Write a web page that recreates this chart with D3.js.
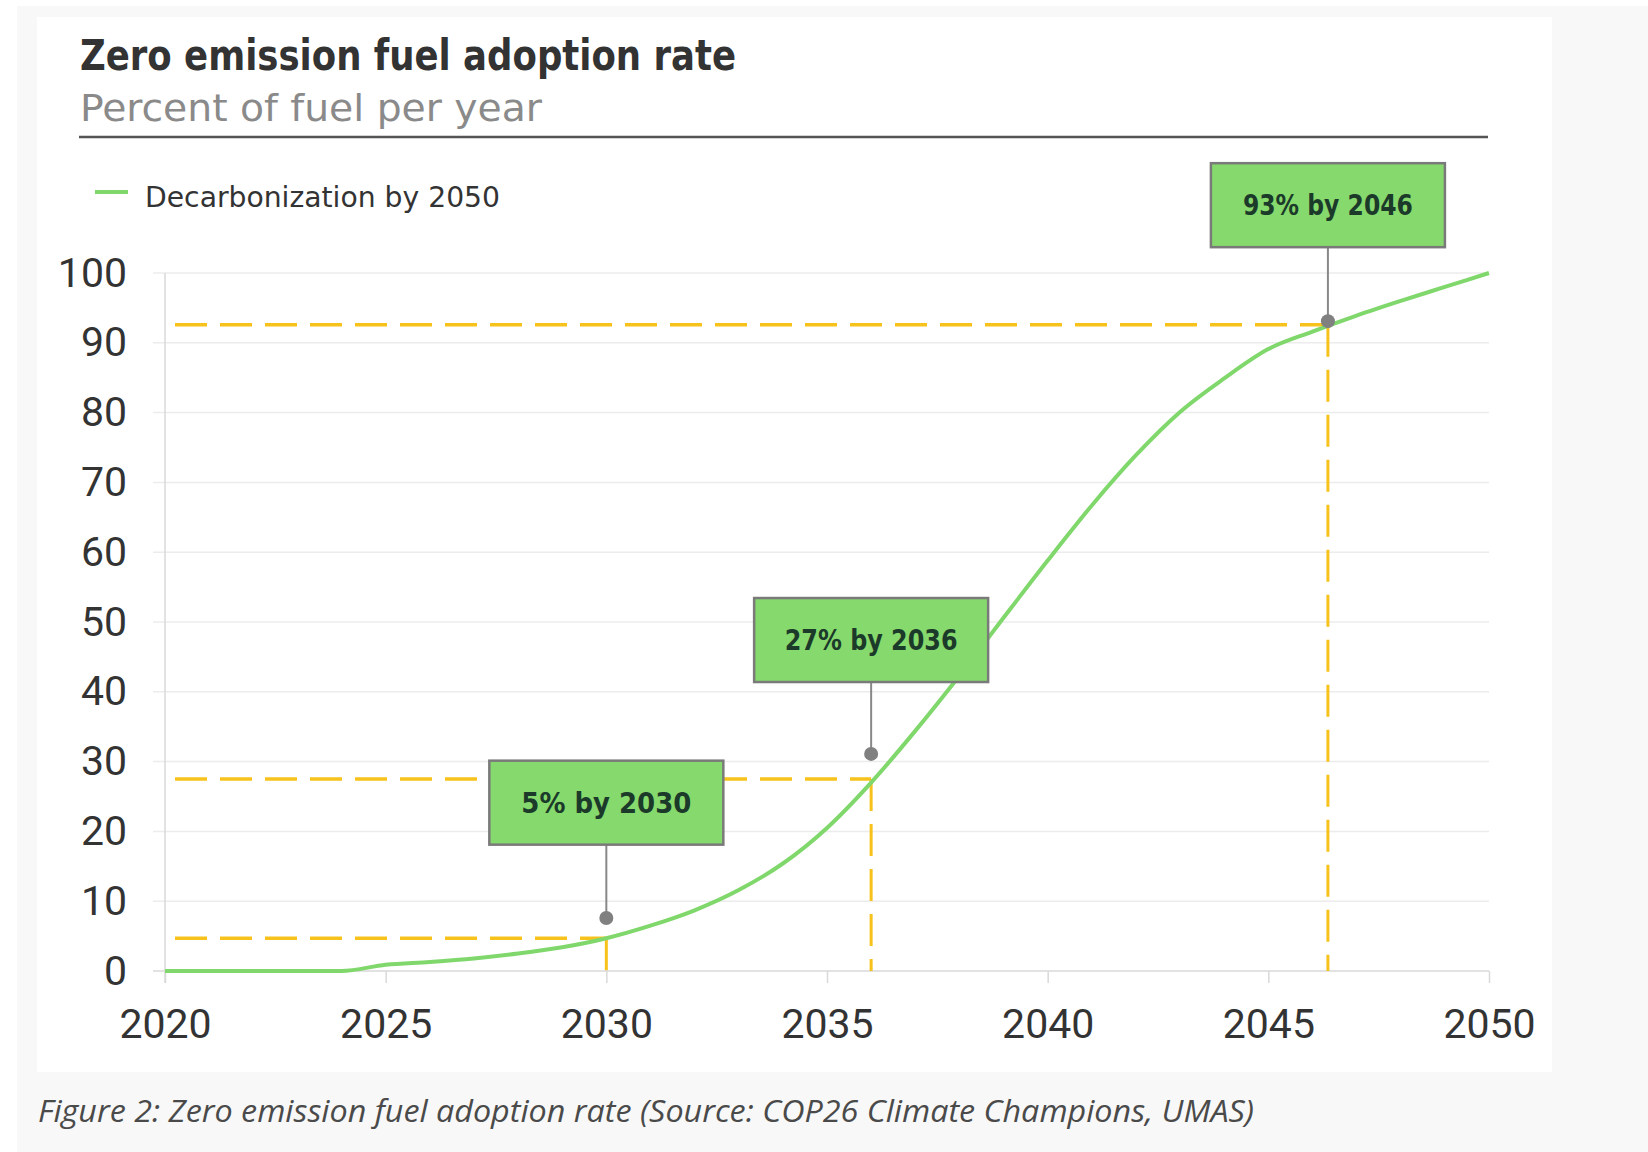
<!DOCTYPE html>
<html>
<head>
<meta charset="utf-8">
<script src="https://cdn.jsdelivr.net/npm/d3@7"></script>
<style>
  body { margin: 0; background: #fff; }
  svg { display: block; }
  .cond { font-family: "DejaVu Sans Condensed", "DejaVu Sans", sans-serif; font-stretch: condensed; }
  .tick-label { font-family: Roboto, "Liberation Sans", sans-serif; font-size: 41px; fill: #333; }
</style>
</head>
<body>
<div id="chart"></div>
<script>
// Decarbonization by 2050 curve, percent of fuel per year
const years = [2020, 2021, 2022, 2023, 2024, 2025, 2026, 2027, 2028, 2029, 2030,
  2031, 2032, 2033, 2034, 2035, 2036, 2037, 2038, 2039, 2040,
  2041, 2042, 2043, 2044, 2045, 2046, 2047, 2048, 2049, 2050];
const adoption = [0, 0, 0, 0, 0, 0.9, 1.3, 1.8, 2.5, 3.4, 4.7,
  6.5, 8.7, 11.6, 15.4, 20.5, 27.0, 34.4, 42.3, 50.6, 58.8,
  66.7, 73.9, 80.1, 84.9, 89.1, 91.6, 93.9, 96.0, 98.0, 100];

const xTicks = [2020, 2025, 2030, 2035, 2040, 2045, 2050];
const yTicks = [0, 10, 20, 30, 40, 50, 60, 70, 80, 90, 100];

// callouts
const calloutLabels = ["5% by 2030", "27% by 2036", "93% by 2046"];
const calloutYears = [2030, 2036, 2046.35];
const calloutLevels = [4.7, 27.5, 92.6];     // dashed guide level
const calloutDots = [7.6, 31.1, 93.1];       // pin dot
const calloutBoxBottoms = [18.1, 41.4, 103.7];

const W = 1648, H = 1152;
const svg = d3.select("#chart").append("svg").attr("width", W).attr("height", H);

// page and card background
svg.append("rect").attr("x", 17).attr("y", 6).attr("width", W - 17).attr("height", H - 6).attr("fill", "#f8f8f8");
svg.append("rect").attr("x", 37).attr("y", 17).attr("width", 1552 - 37).attr("height", 1072 - 17).attr("fill", "#fff");

// titles
svg.append("text").attr("class", "cond")
  .attr("x", 80).attr("y", 70)
  .attr("font-size", 42).attr("font-weight", "bold").attr("fill", "#333")
  .attr("textLength", 656).attr("lengthAdjust", "spacingAndGlyphs")
  .text("Zero emission fuel adoption rate");

svg.append("text").attr("class", "cond")
  .attr("x", 80).attr("y", 121)
  .attr("font-size", 38).attr("fill", "#8a8a8a")
  .attr("textLength", 462).attr("lengthAdjust", "spacingAndGlyphs")
  .text("Percent of fuel per year");

svg.append("line").attr("x1", 79).attr("x2", 1488).attr("y1", 137).attr("y2", 137)
  .attr("stroke", "#555").attr("stroke-width", 2.5);

// legend
svg.append("line").attr("x1", 95).attr("x2", 128).attr("y1", 192).attr("y2", 192)
  .attr("stroke", "#80d86c").attr("stroke-width", 4);
svg.append("text").attr("class", "cond")
  .attr("x", 145).attr("y", 207)
  .attr("font-size", 29).attr("fill", "#333")
  .attr("textLength", 355).attr("lengthAdjust", "spacingAndGlyphs")
  .text("Decarbonization by 2050");

// scales
const x = d3.scaleLinear().domain([2020, 2050]).range([165, 1489]);
const y = d3.scaleLinear().domain([0, 100]).range([971, 273]);

// grid
const g = svg.append("g");
g.selectAll(".grid").data(yTicks.slice(1)).enter().append("line")
  .attr("x1", x(2020) - 12).attr("x2", x(2050))
  .attr("y1", d => y(d)).attr("y2", d => y(d))
  .attr("stroke", "#ececec").attr("stroke-width", 1.5);

// axes
const xAxis = g.append("g").attr("transform", `translate(0,${y(0)})`)
  .call(d3.axisBottom(x).tickValues(xTicks).tickFormat(d3.format("d")).tickSize(12).tickPadding(26));
xAxis.select(".domain").attr("stroke", "#d9d9d9").attr("stroke-width", 1.5)
  .attr("d", `M${x(2020) - 12},0H${x(2050)}`);
xAxis.selectAll(".tick line").attr("stroke", "#d9d9d9").attr("stroke-width", 1.5);
xAxis.selectAll(".tick text").attr("class", "tick-label").attr("font-size", null).attr("font-family", null)
  .attr("fill", null).attr("dy", "0.71em");

const yAxis = g.append("g").attr("transform", `translate(${x(2020)},0)`)
  .call(d3.axisLeft(y).tickValues(yTicks).tickSize(0).tickPadding(38));
yAxis.select(".domain").attr("stroke", "#d9d9d9").attr("stroke-width", 1.5)
  .attr("d", `M0,${y(100)}V${y(0) + 12}`);
yAxis.selectAll(".tick text").attr("class", "tick-label").attr("font-size", null).attr("font-family", null)
  .attr("fill", null);

// dashed guides
const dash = "32,13";
calloutLevels.forEach((v, i) => {
  g.append("line")
    .attr("x1", x(2020)).attr("x2", x(calloutYears[i]))
    .attr("y1", y(v)).attr("y2", y(v))
    .attr("stroke", "#f8c21c").attr("stroke-width", 3.5)
    .attr("stroke-dasharray", dash).attr("stroke-dashoffset", 35);
  g.append("line")
    .attr("x1", x(calloutYears[i])).attr("x2", x(calloutYears[i]))
    .attr("y1", y(v)).attr("y2", y(0))
    .attr("stroke", "#f8c21c").attr("stroke-width", 3)
    .attr("stroke-dasharray", dash);
});

// series line
const line = d3.line().x((d, i) => x(years[i])).y(d => y(d)).curve(d3.curveMonotoneX);
g.append("path").datum(adoption)
  .attr("d", line)
  .attr("fill", "none").attr("stroke", "#80d86c").attr("stroke-width", 4);

// callouts
const boxW = 234, boxH = 84;
const labelWidths = [170, 173, 170];
calloutLabels.forEach((label, i) => {
  const cx = x(calloutYears[i]);
  const bottom = y(calloutBoxBottoms[i]);
  g.append("line").attr("x1", cx).attr("x2", cx)
    .attr("y1", bottom).attr("y2", y(calloutDots[i]))
    .attr("stroke", "#888").attr("stroke-width", 2);
  g.append("circle").attr("cx", cx).attr("cy", y(calloutDots[i])).attr("r", 7).attr("fill", "#808080");
  g.append("rect").attr("x", cx - boxW / 2).attr("y", bottom - boxH)
    .attr("width", boxW).attr("height", boxH)
    .attr("fill", "#86d96c").attr("stroke", "#7a7a7a").attr("stroke-width", 2.5);
  g.append("text").attr("class", "cond")
    .attr("x", cx).attr("y", bottom - boxH / 2 + 10)
    .attr("text-anchor", "middle")
    .attr("font-size", 28).attr("font-weight", "bold").attr("fill", "#1b3a2a")
    .attr("textLength", labelWidths[i]).attr("lengthAdjust", "spacingAndGlyphs")
    .text(label);
});

// caption
svg.append("text")
  .attr("x", 38).attr("y", 1122)
  .attr("font-family", "'Open Sans', 'Noto Sans', sans-serif")
  .attr("font-style", "italic")
  .attr("font-size", 31).attr("fill", "#4a4a4a")
  .attr("textLength", 1216).attr("lengthAdjust", "spacingAndGlyphs")
  .text("Figure 2: Zero emission fuel adoption rate (Source: COP26 Climate Champions, UMAS)");
</script>
</body>
</html>
